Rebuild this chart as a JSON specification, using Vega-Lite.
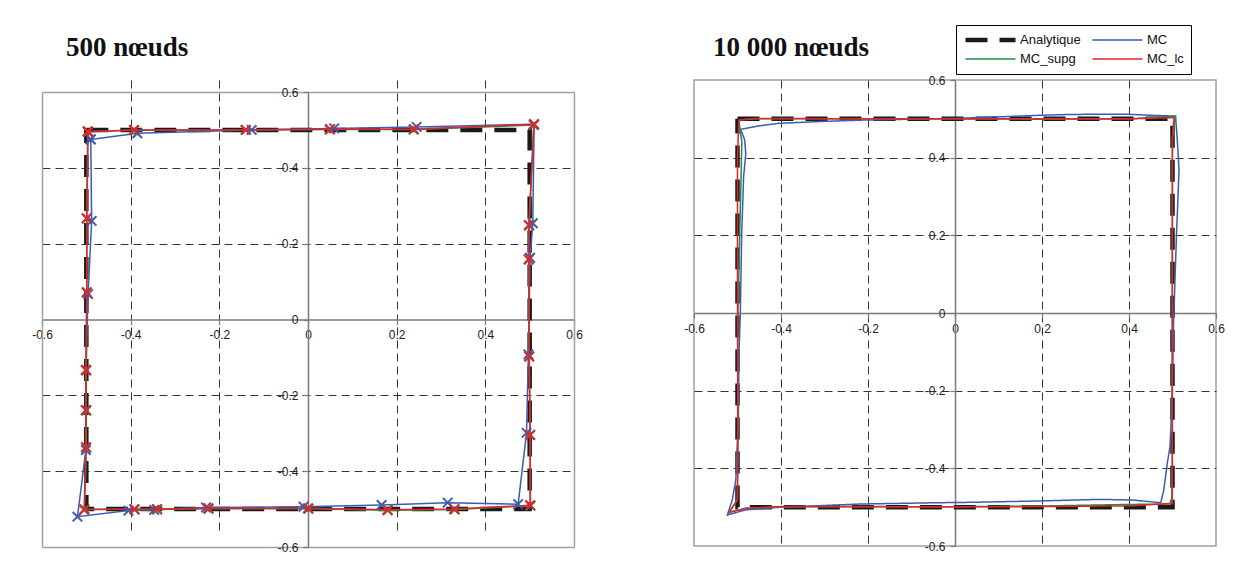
{
  "$schema": "https://vega.github.io/schema/vega-lite/v6.json",
  "background": "white",
  "padding": {"left": 31, "top": 23, "right": 5, "bottom": 5},
  "datasets": {
    "p500": [
      {"s":"Analytique","i":0,"x":-0.5,"y":0.5},
      {"s":"Analytique","i":1,"x":0.5,"y":0.5},
      {"s":"Analytique","i":2,"x":0.5,"y":-0.5},
      {"s":"Analytique","i":3,"x":-0.5,"y":-0.5},
      {"s":"Analytique","i":4,"x":-0.5,"y":0.5},
      {"s":"MC","i":0,"x":-0.490,"y":0.475},
      {"s":"MC","i":1,"x":-0.385,"y":0.491},
      {"s":"MC","i":2,"x":-0.127,"y":0.500},
      {"s":"MC","i":3,"x":0.059,"y":0.504},
      {"s":"MC","i":4,"x":0.245,"y":0.508},
      {"s":"MC","i":5,"x":0.510,"y":0.515},
      {"s":"MC","i":6,"x":0.507,"y":0.254},
      {"s":"MC","i":7,"x":0.501,"y":0.163},
      {"s":"MC","i":8,"x":0.497,"y":-0.092},
      {"s":"MC","i":9,"x":0.493,"y":-0.299},
      {"s":"MC","i":10,"x":0.474,"y":-0.487},
      {"s":"MC","i":11,"x":0.315,"y":-0.483},
      {"s":"MC","i":12,"x":0.166,"y":-0.489},
      {"s":"MC","i":13,"x":-0.010,"y":-0.494},
      {"s":"MC","i":14,"x":-0.230,"y":-0.496},
      {"s":"MC","i":15,"x":-0.347,"y":-0.502},
      {"s":"MC","i":16,"x":-0.405,"y":-0.504},
      {"s":"MC","i":17,"x":-0.520,"y":-0.520},
      {"s":"MC","i":18,"x":-0.501,"y":-0.344},
      {"s":"MC","i":19,"x":-0.501,"y":-0.239},
      {"s":"MC","i":20,"x":-0.501,"y":-0.133},
      {"s":"MC","i":21,"x":-0.496,"y":0.067},
      {"s":"MC","i":22,"x":-0.488,"y":0.260},
      {"s":"MC","i":23,"x":-0.490,"y":0.475},
      {"s":"MC_supg","i":0,"x":-0.497,"y":0.496},
      {"s":"MC_supg","i":1,"x":-0.393,"y":0.499},
      {"s":"MC_supg","i":2,"x":-0.141,"y":0.500},
      {"s":"MC_supg","i":3,"x":0.049,"y":0.501},
      {"s":"MC_supg","i":4,"x":0.238,"y":0.501},
      {"s":"MC_supg","i":5,"x":0.509,"y":0.513},
      {"s":"MC_supg","i":6,"x":0.499,"y":0.248},
      {"s":"MC_supg","i":7,"x":0.498,"y":0.158},
      {"s":"MC_supg","i":8,"x":0.499,"y":-0.097},
      {"s":"MC_supg","i":9,"x":0.501,"y":-0.304},
      {"s":"MC_supg","i":10,"x":0.502,"y":-0.491},
      {"s":"MC_supg","i":11,"x":0.331,"y":-0.501},
      {"s":"MC_supg","i":12,"x":0.180,"y":-0.503},
      {"s":"MC_supg","i":13,"x":0.001,"y":-0.499},
      {"s":"MC_supg","i":14,"x":-0.224,"y":-0.499},
      {"s":"MC_supg","i":15,"x":-0.340,"y":-0.501},
      {"s":"MC_supg","i":16,"x":-0.391,"y":-0.501},
      {"s":"MC_supg","i":17,"x":-0.504,"y":-0.500},
      {"s":"MC_supg","i":18,"x":-0.500,"y":-0.338},
      {"s":"MC_supg","i":19,"x":-0.500,"y":-0.240},
      {"s":"MC_supg","i":20,"x":-0.500,"y":-0.134},
      {"s":"MC_supg","i":21,"x":-0.499,"y":0.071},
      {"s":"MC_supg","i":22,"x":-0.499,"y":0.266},
      {"s":"MC_supg","i":23,"x":-0.497,"y":0.496},
      {"s":"MC_lc","i":0,"x":-0.496,"y":0.495},
      {"s":"MC_lc","i":1,"x":-0.392,"y":0.500},
      {"s":"MC_lc","i":2,"x":-0.140,"y":0.500},
      {"s":"MC_lc","i":3,"x":0.050,"y":0.502},
      {"s":"MC_lc","i":4,"x":0.239,"y":0.502},
      {"s":"MC_lc","i":5,"x":0.510,"y":0.515},
      {"s":"MC_lc","i":6,"x":0.498,"y":0.249},
      {"s":"MC_lc","i":7,"x":0.498,"y":0.159},
      {"s":"MC_lc","i":8,"x":0.499,"y":-0.098},
      {"s":"MC_lc","i":9,"x":0.501,"y":-0.305},
      {"s":"MC_lc","i":10,"x":0.501,"y":-0.490},
      {"s":"MC_lc","i":11,"x":0.330,"y":-0.500},
      {"s":"MC_lc","i":12,"x":0.179,"y":-0.502},
      {"s":"MC_lc","i":13,"x":0.000,"y":-0.498},
      {"s":"MC_lc","i":14,"x":-0.225,"y":-0.498},
      {"s":"MC_lc","i":15,"x":-0.341,"y":-0.500},
      {"s":"MC_lc","i":16,"x":-0.392,"y":-0.500},
      {"s":"MC_lc","i":17,"x":-0.505,"y":-0.502},
      {"s":"MC_lc","i":18,"x":-0.501,"y":-0.337},
      {"s":"MC_lc","i":19,"x":-0.501,"y":-0.239},
      {"s":"MC_lc","i":20,"x":-0.501,"y":-0.133},
      {"s":"MC_lc","i":21,"x":-0.499,"y":0.072},
      {"s":"MC_lc","i":22,"x":-0.499,"y":0.267},
      {"s":"MC_lc","i":23,"x":-0.496,"y":0.495}
    ],
    "p10000": [
      {"s":"Analytique","i":0,"x":-0.5,"y":0.5},
      {"s":"Analytique","i":1,"x":0.5,"y":0.5},
      {"s":"Analytique","i":2,"x":0.5,"y":-0.5},
      {"s":"Analytique","i":3,"x":-0.5,"y":-0.5},
      {"s":"Analytique","i":4,"x":-0.5,"y":0.5},
      {"s":"MC","i":0,"x":-0.4926,"y":0.473},
      {"s":"MC","i":1,"x":-0.45,"y":0.482},
      {"s":"MC","i":2,"x":-0.405,"y":0.4885},
      {"s":"MC","i":3,"x":-0.3,"y":0.4935},
      {"s":"MC","i":4,"x":-0.205,"y":0.497},
      {"s":"MC","i":5,"x":-0.1,"y":0.499},
      {"s":"MC","i":6,"x":0.0,"y":0.501},
      {"s":"MC","i":7,"x":0.1,"y":0.505},
      {"s":"MC","i":8,"x":0.193,"y":0.509},
      {"s":"MC","i":9,"x":0.2545,"y":0.511},
      {"s":"MC","i":10,"x":0.33,"y":0.512},
      {"s":"MC","i":11,"x":0.4,"y":0.5115},
      {"s":"MC","i":12,"x":0.4536,"y":0.509},
      {"s":"MC","i":13,"x":0.507,"y":0.507},
      {"s":"MC","i":14,"x":0.511,"y":0.4455},
      {"s":"MC","i":15,"x":0.515,"y":0.37},
      {"s":"MC","i":16,"x":0.512,"y":0.28},
      {"s":"MC","i":17,"x":0.509,"y":0.1965},
      {"s":"MC","i":18,"x":0.504,"y":0.025},
      {"s":"MC","i":19,"x":0.5025,"y":-0.018},
      {"s":"MC","i":20,"x":0.4995,"y":-0.19},
      {"s":"MC","i":21,"x":0.4965,"y":-0.29},
      {"s":"MC","i":22,"x":0.4943,"y":-0.344},
      {"s":"MC","i":23,"x":0.488,"y":-0.387},
      {"s":"MC","i":24,"x":0.480,"y":-0.456},
      {"s":"MC","i":25,"x":0.473,"y":-0.4885},
      {"s":"MC","i":26,"x":0.4076,"y":-0.4816},
      {"s":"MC","i":27,"x":0.331,"y":-0.480},
      {"s":"MC","i":28,"x":0.193,"y":-0.484},
      {"s":"MC","i":29,"x":0.04,"y":-0.4875},
      {"s":"MC","i":30,"x":-0.037,"y":-0.4885},
      {"s":"MC","i":31,"x":-0.2207,"y":-0.492},
      {"s":"MC","i":32,"x":-0.4046,"y":-0.5004},
      {"s":"MC","i":33,"x":-0.481,"y":-0.507},
      {"s":"MC","i":34,"x":-0.5234,"y":-0.520},
      {"s":"MC","i":35,"x":-0.512,"y":-0.4816},
      {"s":"MC","i":36,"x":-0.504,"y":-0.43},
      {"s":"MC","i":37,"x":-0.498,"y":-0.2756},
      {"s":"MC","i":38,"x":-0.4966,"y":-0.1038},
      {"s":"MC","i":39,"x":-0.4935,"y":0.0},
      {"s":"MC","i":40,"x":-0.4905,"y":0.1965},
      {"s":"MC","i":41,"x":-0.486,"y":0.35},
      {"s":"MC","i":42,"x":-0.481,"y":0.41},
      {"s":"MC","i":43,"x":-0.4834,"y":0.445},
      {"s":"MC","i":44,"x":-0.4926,"y":0.473},
      {"s":"MC_supg","i":0,"x":-0.497,"y":0.497},
      {"s":"MC_supg","i":1,"x":-0.455,"y":0.5},
      {"s":"MC_supg","i":2,"x":0.0,"y":0.5},
      {"s":"MC_supg","i":3,"x":0.4,"y":0.5},
      {"s":"MC_supg","i":4,"x":0.507,"y":0.507},
      {"s":"MC_supg","i":5,"x":0.5,"y":0.45},
      {"s":"MC_supg","i":6,"x":0.4996,"y":0.0},
      {"s":"MC_supg","i":7,"x":0.4996,"y":-0.4},
      {"s":"MC_supg","i":8,"x":0.498,"y":-0.492},
      {"s":"MC_supg","i":9,"x":0.4,"y":-0.493},
      {"s":"MC_supg","i":10,"x":0.2,"y":-0.497},
      {"s":"MC_supg","i":11,"x":0.0,"y":-0.499},
      {"s":"MC_supg","i":12,"x":-0.4,"y":-0.499},
      {"s":"MC_supg","i":13,"x":-0.481,"y":-0.503},
      {"s":"MC_supg","i":14,"x":-0.519,"y":-0.513},
      {"s":"MC_supg","i":15,"x":-0.5,"y":-0.48},
      {"s":"MC_supg","i":16,"x":-0.499,"y":0.0},
      {"s":"MC_supg","i":17,"x":-0.49,"y":0.44},
      {"s":"MC_supg","i":18,"x":-0.497,"y":0.497},
      {"s":"MC_lc","i":0,"x":-0.497,"y":0.497},
      {"s":"MC_lc","i":1,"x":-0.458,"y":0.501},
      {"s":"MC_lc","i":2,"x":-0.2,"y":0.5},
      {"s":"MC_lc","i":3,"x":0.0,"y":0.5},
      {"s":"MC_lc","i":4,"x":0.2,"y":0.499},
      {"s":"MC_lc","i":5,"x":0.4,"y":0.5},
      {"s":"MC_lc","i":6,"x":0.5034,"y":0.503},
      {"s":"MC_lc","i":7,"x":0.4996,"y":0.45},
      {"s":"MC_lc","i":8,"x":0.4996,"y":0.0},
      {"s":"MC_lc","i":9,"x":0.4996,"y":-0.4},
      {"s":"MC_lc","i":10,"x":0.4996,"y":-0.49},
      {"s":"MC_lc","i":11,"x":0.4076,"y":-0.4965},
      {"s":"MC_lc","i":12,"x":0.2,"y":-0.4985},
      {"s":"MC_lc","i":13,"x":0.0,"y":-0.499},
      {"s":"MC_lc","i":14,"x":-0.2,"y":-0.4985},
      {"s":"MC_lc","i":15,"x":-0.4,"y":-0.4985},
      {"s":"MC_lc","i":16,"x":-0.481,"y":-0.503},
      {"s":"MC_lc","i":17,"x":-0.5195,"y":-0.514},
      {"s":"MC_lc","i":18,"x":-0.5005,"y":-0.4816},
      {"s":"MC_lc","i":19,"x":-0.499,"y":-0.36},
      {"s":"MC_lc","i":20,"x":-0.5,"y":0.0},
      {"s":"MC_lc","i":21,"x":-0.5,"y":0.4},
      {"s":"MC_lc","i":22,"x":-0.497,"y":0.497}
    ]
  },
  "resolve": {"scale": {"color": "independent", "strokeDash": "independent", "strokeWidth": "independent"}},
  "hconcat": [
    {
      "width": 532,
      "height": 467,
      "view": {"stroke": null},
      "title": {"text": "500 nœuds", "anchor": "start", "frame": "group", "dx": 24, "offset": 18, "font": "Liberation Serif", "fontSize": 27, "fontWeight": "bold", "color": "#111111"},
      "data": {"name": "p500"},
      "resolve": {"axis": {"x": "independent", "y": "independent"}},
      "layer": [
        {
          "transform": [{"filter": "datum.s == 'Analytique'"}],
          "mark": {"type": "line", "color": "#1a1a1a", "strokeWidth": 4.5, "strokeDash": [22, 12], "strokeCap": "butt", "strokeJoin": "miter"},
          "encoding": {
            "x": {"field": "x", "type": "quantitative", "scale": {"domain": [-0.6, 0.6], "nice": false, "zero": false},
                  "axis": {"orient": "top", "offset": -12, "domain": true, "ticks": false, "labels": false, "grid": false, "domainColor": "#a0a0a0", "domainWidth": 1.5}},
            "y": {"field": "y", "type": "quantitative", "scale": {"domain": [-0.6, 0.6], "range": [467, 12], "nice": false, "zero": false},
                  "axis": {"orient": "right", "domain": true, "ticks": false, "labels": false, "grid": false, "domainColor": "#a0a0a0", "domainWidth": 1.5}},
            "order": {"field": "i", "type": "quantitative"}
          }
        },
        {
          "transform": [{"filter": "datum.s != 'Analytique'"}],
          "mark": {"type": "line", "strokeWidth": 1.5, "strokeCap": "butt", "strokeJoin": "miter"},
          "encoding": {
            "x": {"field": "x", "type": "quantitative", "scale": {"domain": [-0.6, 0.6], "nice": false, "zero": false},
                  "axis": {"orient": "bottom", "offset": -227.5, "grid": true, "values": [-0.6, -0.4, -0.2, 0, 0.2, 0.4, 0.6],
                           "labelExpr": "(datum.value < -0.001 ? '-' : '') + (abs(datum.value) < 0.001 ? '0' : format(abs(datum.value), '.1f'))",
                           "gridOpacity": {"condition": {"test": "abs(datum.value) < 0.01 || abs(datum.value) > 0.55", "value": 0}, "value": 1}}},
            "y": {"field": "y", "type": "quantitative", "scale": {"domain": [-0.6, 0.6], "range": [467, 12], "nice": false, "zero": false},
                  "axis": {"orient": "left", "offset": -266, "grid": true, "values": [-0.6, -0.4, -0.2, 0, 0.2, 0.4, 0.6],
                           "labelExpr": "(datum.value < -0.001 ? '-' : '') + (abs(datum.value) < 0.001 ? '0' : format(abs(datum.value), '.1f'))",
                           "gridOpacity": {"condition": {"test": "abs(datum.value) < 0.01 || abs(datum.value) > 0.55", "value": 0}, "value": 1}}},
            "color": {"field": "s", "type": "nominal", "legend": null,
                      "scale": {"domain": ["Analytique", "MC", "MC_supg", "MC_lc"], "range": ["#1a1a1a", "#3a5cb4", "#1f8f45", "#e8212b"]}},
            "order": {"field": "i", "type": "quantitative"}
          }
        },
        {
          "transform": [{"filter": "datum.s != 'Analytique'"}],
          "mark": {"type": "point", "shape": "M-1,-1L1,1M-1,1L1,-1", "filled": false, "size": 90, "strokeWidth": 2, "opacity": 1},
          "encoding": {
            "x": {"field": "x", "type": "quantitative", "scale": {"domain": [-0.6, 0.6], "nice": false, "zero": false},
                  "axis": {"orient": "bottom", "domain": true, "ticks": false, "labels": false, "grid": false, "domainColor": "#a0a0a0", "domainWidth": 1.5}},
            "y": {"field": "y", "type": "quantitative", "scale": {"domain": [-0.6, 0.6], "range": [467, 12], "nice": false, "zero": false},
                  "axis": {"orient": "left", "domain": true, "ticks": false, "labels": false, "grid": false, "domainColor": "#a0a0a0", "domainWidth": 1.5}},
            "color": {"field": "s", "type": "nominal", "legend": null,
                      "scale": {"domain": ["Analytique", "MC", "MC_supg", "MC_lc"], "range": ["#1a1a1a", "#3a5cb4", "#1f8f45", "#e8212b"]}}
          }
        }
      ]
    },
    {
      "width": 522,
      "height": 466,
      "title": {"text": "10 000 nœuds", "anchor": "start", "frame": "group", "dx": 19, "dy": 37, "offset": 0, "font": "Liberation Serif", "fontSize": 27, "fontWeight": "bold", "color": "#111111"},
      "data": {"name": "p10000"},
      "encoding": {
        "x": {"field": "x", "type": "quantitative", "scale": {"domain": [-0.6, 0.6], "nice": false, "zero": false},
              "axis": {"offset": -233, "values": [-0.6, -0.4, -0.2, 0, 0.2, 0.4, 0.6],
                       "labelExpr": "(datum.value < -0.001 ? '-' : '') + (abs(datum.value) < 0.001 ? '0' : format(abs(datum.value), '.1f'))",
                       "gridOpacity": {"condition": {"test": "abs(datum.value) < 0.01 || abs(datum.value) > 0.55", "value": 0}, "value": 1}}},
        "y": {"field": "y", "type": "quantitative", "scale": {"domain": [-0.6, 0.6], "nice": false, "zero": false},
              "axis": {"offset": -261, "values": [-0.6, -0.4, -0.2, 0, 0.2, 0.4, 0.6],
                       "labelExpr": "(datum.value < -0.001 ? '-' : '') + (abs(datum.value) < 0.001 ? '0' : format(abs(datum.value), '.1f'))",
                       "gridOpacity": {"condition": {"test": "abs(datum.value) < 0.01 || abs(datum.value) > 0.55", "value": 0}, "value": 1}}},
        "color": {"field": "s", "type": "nominal",
                  "legend": {"title": null, "orient": "none", "legendX": 262, "legendY": -55, "direction": "horizontal", "columns": 2,
                             "columnPadding": 9, "rowPadding": 3, "padding": 7, "clipHeight": 16, "gridAlign": "all",
                             "strokeColor": "#000000", "fillColor": "#ffffff", "symbolType": "stroke", "symbolSize": 2500,
                             "labelFont": "Liberation Sans", "labelFontSize": 13, "labelColor": "#111111", "labelOffset": 2},
                  "scale": {"domain": ["Analytique", "MC", "MC_supg", "MC_lc"], "range": ["#1a1a1a", "#3a5cb4", "#1f8f45", "#e8212b"]}},
        "strokeDash": {"field": "s", "type": "nominal",
                       "scale": {"domain": ["Analytique", "MC", "MC_supg", "MC_lc"], "range": [[22, 12], [1, 0], [1, 0], [1, 0]]}},
        "strokeWidth": {"field": "s", "type": "nominal",
                        "scale": {"type": "ordinal", "domain": ["Analytique", "MC", "MC_supg", "MC_lc"], "range": [4.5, 1.5, 1.5, 1.5]}},
        "order": {"field": "i", "type": "quantitative"}
      },
      "mark": {"type": "line", "strokeCap": "butt", "strokeJoin": "miter"}
    }
  ],
  "spacing": 99,
  "config": {
    "view": {"stroke": "#a0a0a0", "strokeWidth": 1.5},
    "axis": {"title": null, "labelFont": "Liberation Sans", "labelFontSize": 12, "labelColor": "#222222",
             "domainColor": "#7a7a7a", "domainWidth": 1.5, "tickColor": "#7a7a7a", "tickWidth": 1.2, "tickSize": 5,
             "gridColor": "#333333", "gridDash": [8, 5], "gridWidth": 1, "labelOverlap": false, "labelFlush": false, "labelPadding": 5}
  }
}
